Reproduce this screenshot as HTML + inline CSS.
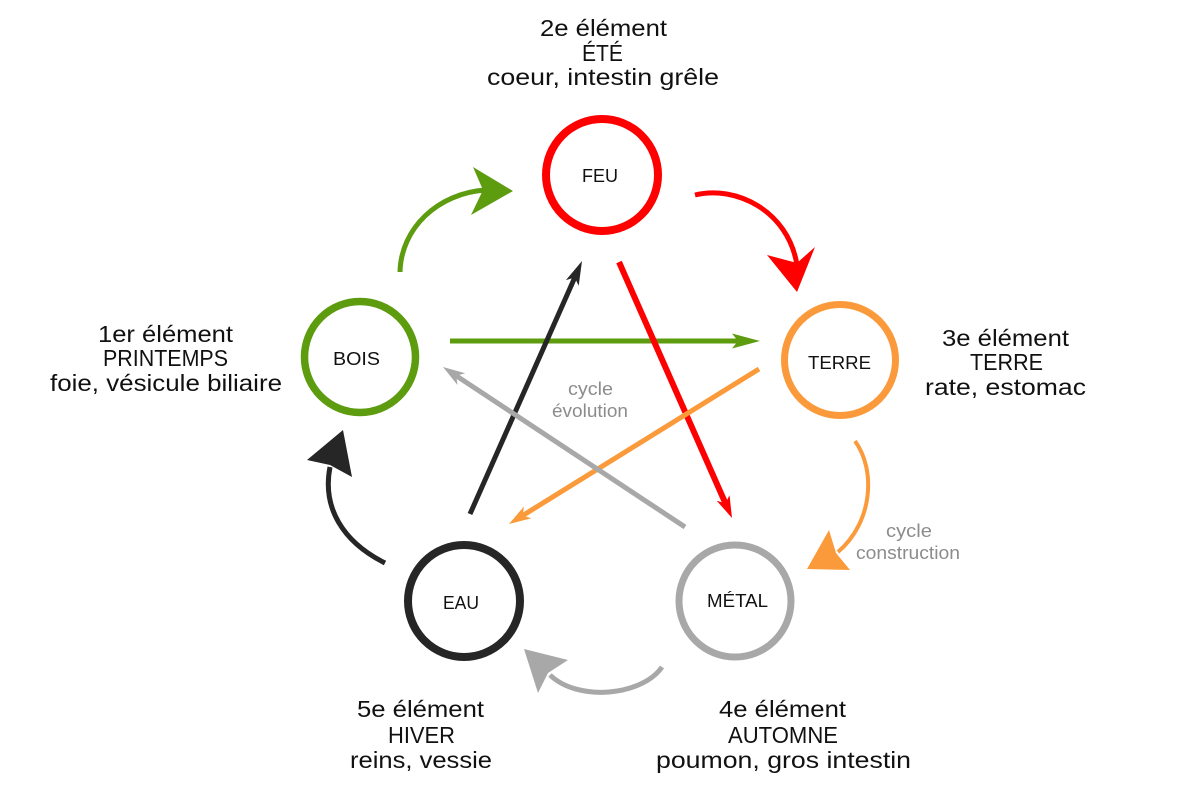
<!DOCTYPE html>
<html>
<head>
<meta charset="utf-8">
<style>
  html, body { margin: 0; padding: 0; background: #ffffff; }
  svg { display: block; }
  text { font-family: "Liberation Sans", Arial, sans-serif; }
</style>
</head>
<body>
<svg width="1200" height="794" viewBox="0 0 1200 794" xmlns="http://www.w3.org/2000/svg">
  <rect width="1200" height="794" fill="#ffffff"/>

  <!-- Circles -->
  <circle cx="602" cy="175" r="56" fill="none" stroke="#ff0000" stroke-width="8"/>
  <circle cx="360" cy="357" r="55.5" fill="none" stroke="#5d9b0f" stroke-width="7.5"/>
  <circle cx="840" cy="360" r="55.5" fill="none" stroke="#fb9a3a" stroke-width="7"/>
  <circle cx="464" cy="601" r="56" fill="none" stroke="#262626" stroke-width="8"/>
  <circle cx="735" cy="601" r="56" fill="none" stroke="#a8a8a8" stroke-width="7"/>

  <!-- Circle labels -->
  <g font-size="18" fill="#111">
    <text x="582" y="182" textLength="36" lengthAdjust="spacingAndGlyphs">FEU</text>
    <text x="333" y="365" textLength="47" lengthAdjust="spacingAndGlyphs">BOIS</text>
    <text x="808" y="369" textLength="63" lengthAdjust="spacingAndGlyphs">TERRE</text>
    <text x="443" y="609" textLength="36" lengthAdjust="spacingAndGlyphs">EAU</text>
    <text x="707" y="607" textLength="61" lengthAdjust="spacingAndGlyphs">MÉTAL</text>
  </g>

  <!-- Straight star arrows -->
  <!-- green BOIS -> TERRE -->
  <line x1="450" y1="341" x2="740" y2="341" stroke="#5d9b0f" stroke-width="5"/>
  <polygon points="760,341 732,333.5 738,341 732,348.5" fill="#5d9b0f"/>

  <!-- black EAU -> FEU -->
  <line x1="470" y1="514" x2="575" y2="277" stroke="#262626" stroke-width="5"/>
  <polygon points="582,261 578.7,285.7 574.7,277.5 565.9,280.1" fill="#262626"/>

  <!-- red FEU -> METAL -->
  <line x1="619" y1="262" x2="725.5" y2="503.4" stroke="#ff0000" stroke-width="6"/>
  <polygon points="732,518 716.7,500.7 725.5,503.4 729.5,495.1" fill="#ff0000"/>

  <!-- orange TERRE -> EAU -->
  <line x1="759" y1="369" x2="522.6" y2="515.6" stroke="#fb9a3a" stroke-width="5"/>
  <polygon points="509,524 524,506.4 522.6,515.6 531.4,518.3" fill="#fb9a3a"/>

  <!-- gray METAL -> BOIS -->
  <line x1="685" y1="527" x2="456.3" y2="375.8" stroke="#a8a8a8" stroke-width="5"/>
  <polygon points="443,367 465.3,373.3 456.3,375.8 457.5,385" fill="#a8a8a8"/>

  <!-- Curved outer arrows -->
  <!-- green BOIS -> FEU -->
  <path d="M400,272 C401,228 438,193 486,190" fill="none" stroke="#5d9b0f" stroke-width="5"/>
  <polygon points="513,191 473,167 483,190 471,215" fill="#5d9b0f"/>

  <!-- red FEU -> TERRE -->
  <path d="M695,195 C735,185 788,210 797,265" fill="none" stroke="#ff0000" stroke-width="5"/>
  <polygon points="797,292 767,255 797,263 815,247" fill="#ff0000"/>

  <!-- orange TERRE -> METAL -->
  <path d="M855,441 C876,470 873,522 838,552" fill="none" stroke="#fb9a3a" stroke-width="4"/>
  <polygon points="807,569 829,530 836,553 850,570" fill="#fb9a3a"/>

  <!-- gray METAL -> EAU -->
  <path d="M662,667 C642,696 578,702 550,675" fill="none" stroke="#a8a8a8" stroke-width="5"/>
  <polygon points="524,649 568,660 548,673 538,693" fill="#a8a8a8"/>

  <!-- black EAU -> BOIS -->
  <path d="M385,563 C343,542 322,508 330,467" fill="none" stroke="#262626" stroke-width="5"/>
  <polygon points="343,430 352,477 330,465 307,460" fill="#262626"/>

  <!-- Cycle labels -->
  <g font-size="18" fill="#8c8c8c">
    <text x="568" y="395" textLength="45" lengthAdjust="spacingAndGlyphs">cycle</text>
    <text x="552" y="417" textLength="76" lengthAdjust="spacingAndGlyphs">évolution</text>
    <text x="886" y="537" textLength="46" lengthAdjust="spacingAndGlyphs">cycle</text>
    <text x="856" y="559" textLength="104" lengthAdjust="spacingAndGlyphs">construction</text>
  </g>

  <!-- Element descriptions -->
  <g font-size="23" fill="#111">
    <!-- top -->
    <text x="540" y="36" textLength="127" lengthAdjust="spacingAndGlyphs">2e élément</text>
    <text x="582" y="61" textLength="41" lengthAdjust="spacingAndGlyphs">ÉTÉ</text>
    <text x="487" y="85" textLength="232" lengthAdjust="spacingAndGlyphs">coeur, intestin grêle</text>

    <!-- left -->
    <text x="98" y="342" textLength="135" lengthAdjust="spacingAndGlyphs">1er élément</text>
    <text x="103" y="366" textLength="125" lengthAdjust="spacingAndGlyphs">PRINTEMPS</text>
    <text x="50" y="391" textLength="232" lengthAdjust="spacingAndGlyphs">foie, vésicule biliaire</text>

    <!-- right -->
    <text x="942" y="346" textLength="127" lengthAdjust="spacingAndGlyphs">3e élément</text>
    <text x="970" y="370" textLength="73" lengthAdjust="spacingAndGlyphs">TERRE</text>
    <text x="925" y="395" textLength="161" lengthAdjust="spacingAndGlyphs">rate, estomac</text>

    <!-- bottom left -->
    <text x="357" y="717" textLength="127" lengthAdjust="spacingAndGlyphs">5e élément</text>
    <text x="388" y="743" textLength="67" lengthAdjust="spacingAndGlyphs">HIVER</text>
    <text x="350" y="768" textLength="142" lengthAdjust="spacingAndGlyphs">reins, vessie</text>

    <!-- bottom right -->
    <text x="719" y="717" textLength="127" lengthAdjust="spacingAndGlyphs">4e élément</text>
    <text x="728" y="743" textLength="110" lengthAdjust="spacingAndGlyphs">AUTOMNE</text>
    <text x="656" y="768" textLength="255" lengthAdjust="spacingAndGlyphs">poumon, gros intestin</text>
  </g>
</svg>
</body>
</html>
